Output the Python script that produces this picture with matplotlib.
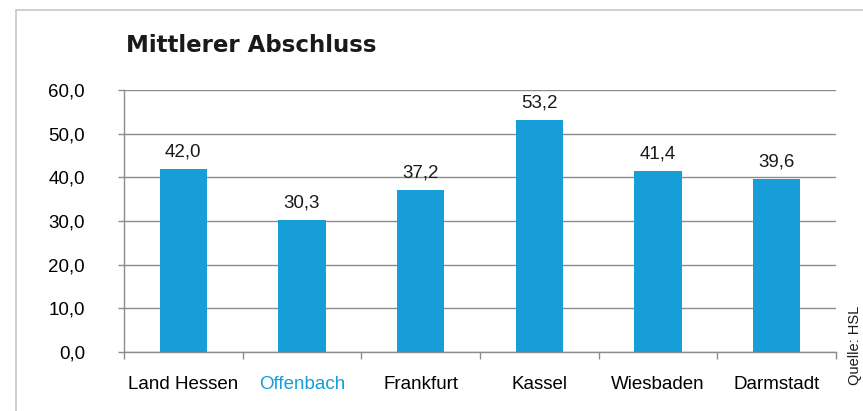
import matplotlib
matplotlib.use("Agg")
import matplotlib.pyplot as plt
from matplotlib.patches import Rectangle
from matplotlib.ticker import FuncFormatter

categories = ["Land Hessen", "Offenbach", "Frankfurt", "Kassel", "Wiesbaden", "Darmstadt"]
values = [42.0, 30.3, 37.2, 53.2, 41.4, 39.6]
highlight = "Offenbach"

BAR_COLOR = "#179ed9"
GRID_COLOR = "#8c8c8c"
FS = 13.5

plt.rcParams["font.family"] = ["Liberation Sans", "DejaVu Sans"]

fig = plt.figure(figsize=(8.63, 4.11), dpi=100)
ax = fig.add_axes([124 / 863, 59 / 411, 712 / 863, 262 / 411])

# light frame around the chart
fig.patches.append(Rectangle((16 / 863, -0.1), 1.0, 1 - 10 / 411 + 0.1,
                             transform=fig.transFigure, fill=False,
                             edgecolor="#c8c8c8", linewidth=1.2))

x = list(range(len(categories)))
ax.bar(x, values, width=0.4, color=BAR_COLOR, zorder=3)
for xi, v in zip(x, values):
    ax.annotate(f"{v:.1f}".replace(".", ","), (xi, v), xytext=(0, 6),
                textcoords="offset points", ha="center", va="bottom",
                fontsize=FS, color="#1a1a1a")

ax.set_xlim(-0.5, len(categories) - 0.5)
ax.set_ylim(0, 60)
ax.set_yticks(range(0, 61, 10))
ax.yaxis.set_major_formatter(FuncFormatter(lambda v, p: f"{v:.1f}".replace(".", ",")))
ax.yaxis.grid(True, color=GRID_COLOR, linewidth=1.0, zorder=0)
ax.set_axisbelow(True)

ax.set_xticks([i - 0.5 for i in range(len(categories) + 1)])
ax.set_xticklabels([])
ax.set_xticks(x, minor=True)
ax.set_xticklabels(categories, minor=True)
ax.tick_params(axis="x", which="minor", length=0, pad=17, labelsize=FS)
ax.tick_params(axis="x", which="major", length=5, color=GRID_COLOR, width=1.0)
ax.tick_params(axis="y", length=4, color=GRID_COLOR, width=1.0, pad=24, labelsize=FS)
for lbl in ax.get_xticklabels(minor=True):
    if lbl.get_text() == highlight:
        lbl.set_color(BAR_COLOR)

for side in ["top", "right"]:
    ax.spines[side].set_visible(False)
for side in ["left", "bottom"]:
    ax.spines[side].set_color(GRID_COLOR)
    ax.spines[side].set_linewidth(1.0)

fig.text(126 / 863, 1 - 45 / 411, "Mittlerer Abschluss", fontsize=16.5,
         fontweight="bold", family="DejaVu Sans", color="#1a1a1a",
         va="center", ha="left")
fig.text(855 / 863, 1 - 345 / 411, "Quelle: HSL", rotation=90, fontsize=10.5,
         color="#1a1a1a", va="center", ha="center")

fig.savefig("out.png", dpi=100)
